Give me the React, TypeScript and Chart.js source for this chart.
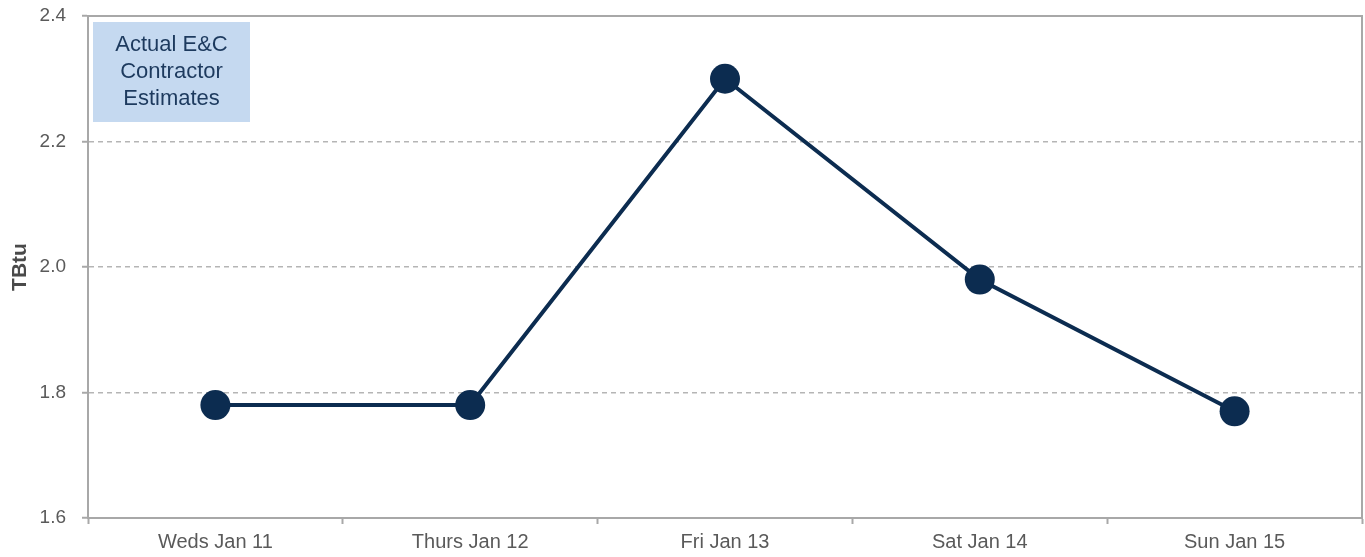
import React, { useEffect, useRef } from "react";
import { Chart, registerables } from "chart.js";

Chart.register(...registerables);

const categories = ["Weds Jan 11", "Thurs Jan 12", "Fri Jan 13", "Sat Jan 14", "Sun Jan 15"];
const values = [1.78, 1.78, 2.3, 1.98, 1.77];
const yTicks = [1.6, 1.8, 2.0, 2.2, 2.4];
const yTitle = "TBtu";
const boxLines = ["Actual E&C", "Contractor", "Estimates"];

const FONT = "'Liberation Sans', Arial, Helvetica, sans-serif";
const NAVY = "#0c2c50";
const AXIS = "#a8a8a8";
const LABEL = "#5a5a5a";

const frameAndBox = {
  id: "frameAndBox",
  beforeDatasetsDraw(chart: any) {
    const { ctx, chartArea } = chart;
    ctx.save();
    ctx.strokeStyle = AXIS;
    ctx.lineWidth = 2;
    ctx.beginPath();
    ctx.moveTo(chartArea.left, chartArea.top);
    ctx.lineTo(chartArea.right, chartArea.top);
    ctx.lineTo(chartArea.right, chartArea.bottom);
    ctx.stroke();
    // annotation box
    const x = chartArea.left + 5;
    const y = chartArea.top + 6;
    const w = 157;
    const h = 100;
    ctx.fillStyle = "#c5d9f0";
    ctx.fillRect(x, y, w, h);
    ctx.fillStyle = "#1d3a5e";
    ctx.font = `22px ${FONT}`;
    ctx.textAlign = "center";
    ctx.textBaseline = "middle";
    boxLines.forEach((t, i) => {
      ctx.fillText(t, x + w / 2, y + 23 + i * 27);
    });
    ctx.restore();
  },
};

export default function App() {
  const ref = useRef<HTMLCanvasElement>(null);
  useEffect(() => {
    if (!ref.current) return;
    const chart = new Chart(ref.current, {
      type: "line",
      data: {
        labels: categories,
        datasets: [
          {
            data: values,
            borderColor: NAVY,
            backgroundColor: NAVY,
            borderWidth: 4,
            pointRadius: 15,
            pointHoverRadius: 15,
            pointBorderWidth: 0,
            pointBackgroundColor: NAVY,
            tension: 0,
            clip: false,
          },
        ],
      },
      options: {
        animation: false,
        responsive: false,
        maintainAspectRatio: false,
        layout: { autoPadding: false, padding: { top: 16, right: 3, left: 0, bottom: 0 } },
        plugins: { legend: { display: false }, tooltip: { enabled: false }, title: { display: false } },
        scales: {
          x: {
            type: "category",
            offset: true,
            grid: {
              offset: true,
              drawOnChartArea: false,
              drawTicks: true,
              tickLength: 6,
              tickColor: AXIS,
              tickWidth: 2,
            },
            border: { display: true, color: AXIS, width: 2 },
            ticks: { color: LABEL, font: { family: FONT, size: 20 }, padding: 6, maxRotation: 0, autoSkip: false },
            afterFit(scale: any) {
              scale.height = 39;
              scale.paddingLeft = 0;
              scale.paddingRight = 0;
            },
          },
          y: {
            min: 1.6,
            max: 2.4,
            afterBuildTicks(scale: any) {
              scale.ticks = yTicks.map((v) => ({ value: v }));
            },
            grid: {
              color: (c: any) =>
                c.tick && (Math.abs(c.tick.value - 1.6) < 1e-6 || Math.abs(c.tick.value - 2.4) < 1e-6)
                  ? "rgba(0,0,0,0)"
                  : "#b5b5b5",
              lineWidth: 1.5,
              drawTicks: true,
              tickLength: 6,
              tickColor: AXIS,
              tickWidth: 2,
              tickBorderDash: [],
            },
            border: { display: true, color: AXIS, width: 2, dash: [5, 4] },
            ticks: {
              color: LABEL,
              font: { family: FONT, size: 19 },
              padding: 16,
              callback: (v: any) => Number(v).toFixed(1),
            },
            title: {
              display: true,
              text: yTitle,
              color: "#4a4a4a",
              font: { family: FONT, size: 21, weight: "bold" },
              padding: { top: 8, bottom: 0 },
            },
            afterFit(scale: any) {
              scale.width = 88;
              scale.paddingTop = 0;
              scale.paddingBottom = 0;
            },
          },
        },
      },
      plugins: [frameAndBox],
    });
    return () => chart.destroy();
  }, []);
  return (
    <div style={{ position: "absolute", left: 0, top: 0, width: 1365, height: 557, background: "#fff" }}>
      <canvas ref={ref} width={1365} height={557} style={{ display: "block", width: 1365, height: 557 }} />
    </div>
  );
}
